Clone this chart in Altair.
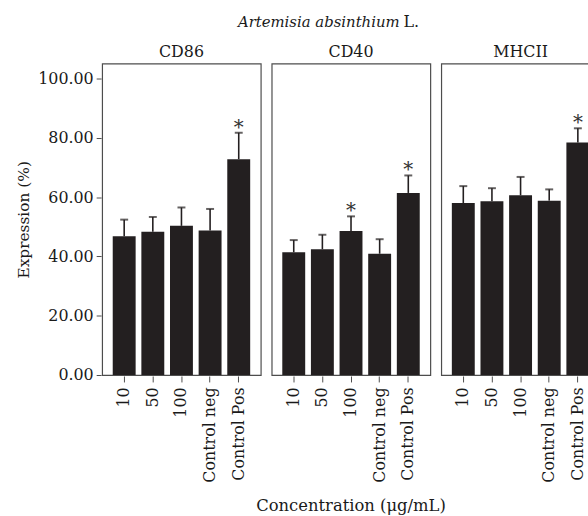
import altair as alt
import pandas as pd

markers = ["CD86", "CD40", "MHCII"]
concs = ["10", "50", "100", "Control neg", "Control Pos"]

cd86_mean = [46.8, 48.3, 50.3, 48.7, 72.8]
cd86_sd = [5.6, 5.0, 6.2, 7.3, 8.9]
cd86_sig = ["", "", "", "", "*"]

cd40_mean = [41.4, 42.4, 48.6, 40.9, 61.4]
cd40_sd = [4.1, 4.9, 4.9, 4.9, 5.9]
cd40_sig = ["", "", "*", "", "*"]

mhcii_mean = [58.0, 58.6, 60.6, 58.8, 78.4]
mhcii_sd = [5.7, 4.4, 6.2, 3.8, 4.8]
mhcii_sig = ["", "", "", "", "*"]

y_ticks = [0, 20, 40, 60, 80, 100]

rows = []
for m, means, sds, sigs in [
    ("CD86", cd86_mean, cd86_sd, cd86_sig),
    ("CD40", cd40_mean, cd40_sd, cd40_sig),
    ("MHCII", mhcii_mean, mhcii_sd, mhcii_sig),
]:
    for c, v, s, g in zip(concs, means, sds, sigs):
        rows.append({"marker": m, "conc": c, "value": v, "sd": s, "sig": g})
df = pd.DataFrame(rows)

FONT = "DejaVu Serif"
DARK = "#231f20"
FRAME = "#4d4d4d"
TXT = "#1a1a1a"

base = alt.Chart().transform_calculate(top="datum.value + datum.sd").encode(
    x=alt.X(
        "conc:N",
        sort=concs,
        scale=alt.Scale(paddingInner=0.2, paddingOuter=0.37),
        axis=alt.Axis(
            title=None, labelAngle=-90, labelAlign="right", labelBaseline="middle",
            labelFont=FONT, labelFontSize=16, labelColor=TXT, tickSize=6,
            tickColor=FRAME, domain=False, labelPadding=5,
        ),
    )
)

yscale = alt.Scale(domain=[0, 105], nice=False, zero=True)

bars = base.mark_bar(color=DARK).encode(
    y=alt.Y(
        "value:Q",
        scale=yscale,
        axis=alt.Axis(
            values=y_ticks, format=".2f", title="Expression (%)", grid=False,
            labelFont=FONT, labelFontSize=16, labelColor=TXT, tickSize=5,
            tickColor=FRAME, domain=False, labelPadding=3, titleFont=FONT,
            titleFontSize=15.5, titleFontWeight="normal", titleColor=TXT,
            titlePadding=6,
        ),
    )
)
rules = base.mark_rule(color=DARK, strokeWidth=1.6).encode(
    y=alt.Y("value:Q", scale=yscale), y2="top:Q"
)
caps = base.mark_tick(color=DARK, thickness=2, size=8).encode(
    y=alt.Y("top:Q", scale=yscale)
)
stars = base.mark_text(font=FONT, fontSize=20, color="#333", baseline="middle", dy=-5).encode(
    y=alt.Y("top:Q", scale=yscale), text="sig:N"
)

panels = (
    alt.layer(bars, rules, caps, stars, data=df)
    .properties(width=160, height=314)
    .facet(
        column=alt.Column(
            "marker:N",
            sort=markers,
            header=alt.Header(
                title="Concentration (μg/mL)", titleOrient="bottom", labelOrient="top",
                labelFont=FONT, labelFontSize=16, labelColor=TXT, labelPadding=3,
                titleFont=FONT, titleFontSize=16.5, titleFontWeight="normal",
                titleColor=TXT, titlePadding=5,
            ),
        ),
        spacing=9,
    )
)

title_df = pd.DataFrame({"a": [0]})
t1 = alt.Chart(title_df).mark_text(
    text="Artemisia absinthium", font=FONT, fontStyle="italic", fontSize=15,
    align="right", baseline="middle", color=TXT,
).encode(x=alt.value(300), y=alt.value(19))
t2 = alt.Chart(title_df).mark_text(
    text="L.", font=FONT, fontSize=16, align="left", baseline="middle", color=TXT,
    dx=4,
).encode(x=alt.value(300), y=alt.value(19))
title_chart = alt.layer(t1, t2).properties(
    width=400, height=30, view=alt.ViewBackground(stroke="transparent")
)

chart = (
    alt.vconcat(title_chart, panels, spacing=10)
    .properties(padding={"left": 17, "top": 0, "right": -13, "bottom": 0})
    .configure_view(stroke=FRAME, strokeWidth=1.2)
)

chart.save("out.html", embed_options={"renderer": "svg", "actions": False})
